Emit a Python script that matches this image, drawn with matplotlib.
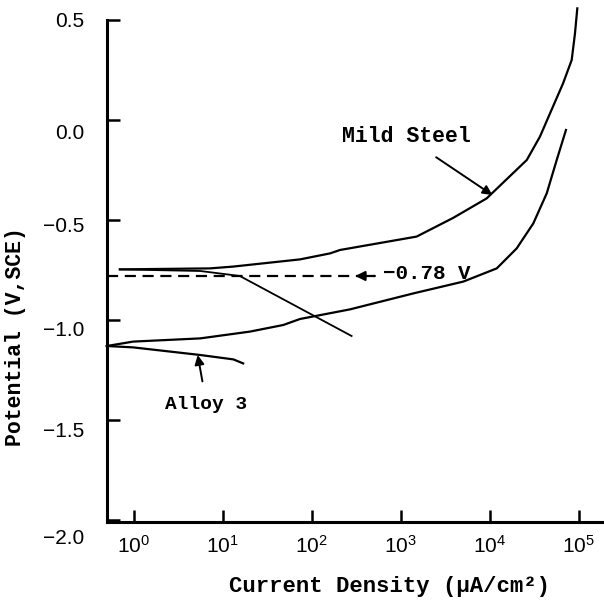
import matplotlib
matplotlib.use('Agg')
import matplotlib.pyplot as plt
import matplotlib.transforms as mtransforms
import numpy as np

# Values
# current density in uA/cm2, potential in V vs SCE
steel_anodic_i = [0.70, 7.2, 13.1, 74, 161, 208, 1510, 3870, 9250, 26100, 36700, 47600, 66700, 83400, 90800, 96400]
steel_anodic_e = [-0.747, -0.742, -0.733, -0.697, -0.667, -0.650, -0.583, -0.490, -0.392, -0.200, -0.083, 0.033, 0.183, 0.300, 0.433, 0.558]

steel_cathodic_i = [0.70, 5.6, 15.6, 281]
steel_cathodic_e = [-0.747, -0.755, -0.780, -1.080]

alloy_anodic_i = [0.50, 0.99, 5.6, 20.3, 48, 74, 269, 1390, 5050, 12000, 20100, 30900, 43700, 56600, 71900]
alloy_anodic_e = [-1.130, -1.108, -1.092, -1.058, -1.025, -0.995, -0.947, -0.867, -0.808, -0.742, -0.642, -0.517, -0.367, -0.200, -0.050]

alloy_cathodic_i = [0.50, 0.99, 5.6, 13.2, 17.0]
alloy_cathodic_e = [-1.130, -1.137, -1.175, -1.197, -1.217]

e_corr = -0.78

x_ticks = [1, 10, 100, 1000, 10000, 100000]
x_tick_labels = ['$10^{0}$', '$10^{1}$', '$10^{2}$', '$10^{3}$', '$10^{4}$', '$10^{5}$']
y_ticks = [0.5, 0.0, -0.5, -1.0, -1.5, -2.0]
y_tick_labels = ['0.5', '0.0', '\u22120.5', '\u22121.0', '\u22121.5', '\u22122.0']

plt.rcParams['font.family'] = ['Liberation Sans', 'DejaVu Sans']
plt.rcParams['mathtext.default'] = 'regular'

mono = dict(family='Liberation Mono', fontweight='bold')

fig = plt.figure(figsize=(6.04, 6.0), dpi=100)
ax = fig.add_axes([0.177, 0.13, 0.823, 0.8367])

lw = 1.6
ax.plot(steel_anodic_i, steel_anodic_e, color='black', lw=lw, clip_on=False)
ax.plot(steel_cathodic_i, steel_cathodic_e, color='black', lw=1.3, clip_on=False)
ax.plot(alloy_anodic_i, alloy_anodic_e, color='black', lw=lw, clip_on=False)
ax.plot(alloy_cathodic_i, alloy_cathodic_e, color='black', lw=lw, clip_on=False)

# dashed corrosion potential line with arrow
x_lo = 10 ** -0.3
ax.plot([x_lo, 10 ** 2.71], [e_corr, e_corr], color='black', lw=1.6, dashes=(5, 3), clip_on=False)
ax.annotate('', xy=(10 ** 2.49, e_corr), xytext=(10 ** 2.71, e_corr),
            arrowprops=dict(arrowstyle='-|>', color='black', lw=1.6,
                            mutation_scale=14, shrinkA=0, shrinkB=0))
ax.text(10 ** 2.80, e_corr + 0.01, '\u22120.78 V', ha='left', va='center', fontsize=15, **mono)

# curve labels
ax.annotate('Mild Steel', xy=(10 ** 4.03, -0.375), xytext=(10 ** 3.06, -0.085),
            ha='center', va='center', fontsize=15.5, **mono,
            arrowprops=dict(arrowstyle='-|>', color='black', lw=1.4, mutation_scale=14,
                            shrinkA=9, shrinkB=0))
ax.annotate('Alloy 3', xy=(10 ** 0.72, -1.175), xytext=(10 ** 0.82, -1.425),
            ha='center', va='center', fontsize=14, **mono,
            arrowprops=dict(arrowstyle='-|>', color='black', lw=1.4, mutation_scale=14,
                            shrinkA=9, shrinkB=0))

ax.set_xscale('log')
ax.set_xlim(x_lo, 10 ** 5.284)
ax.set_ylim(-2.01, 0.5)

ax.set_xticks(x_ticks)
ax.set_xticklabels(x_tick_labels)
ax.xaxis.set_minor_locator(matplotlib.ticker.NullLocator())
ax.set_yticks(y_ticks)
ax.set_yticklabels(y_tick_labels)

ax.tick_params(axis='both', direction='in', length=9, width=1.8, labelsize=15)
ax.tick_params(axis='y', pad=16)
ax.tick_params(axis='x', pad=9)

# the scanned y labels sit a little below their ticks, by uneven amounts
drops = [0, 12, 5, 9, 10, 17]
for lab, d in zip(ax.get_yticklabels(), drops):
    shift = mtransforms.ScaledTranslation(0, -d / 100, fig.dpi_scale_trans)
    lab.set_transform(lab.get_transform() + shift)

for side in ['top', 'right']:
    ax.spines[side].set_visible(False)
ax.spines['left'].set_linewidth(2.2)
ax.spines['bottom'].set_linewidth(2.2)

ax.set_xlabel('Current Density (\u03bcA/cm\u00b2)', fontsize=16, **mono)
ax.xaxis.set_label_coords(0.568, -0.1275)
ax.xaxis.label.set_verticalalignment('center')
ax.set_ylabel('Potential (V,SCE)', fontsize=15.5, **mono)
ax.yaxis.set_label_coords(-0.183, 0.3685)
ax.yaxis.label.set_verticalalignment('center')

fig.savefig('out.png', dpi=100)
